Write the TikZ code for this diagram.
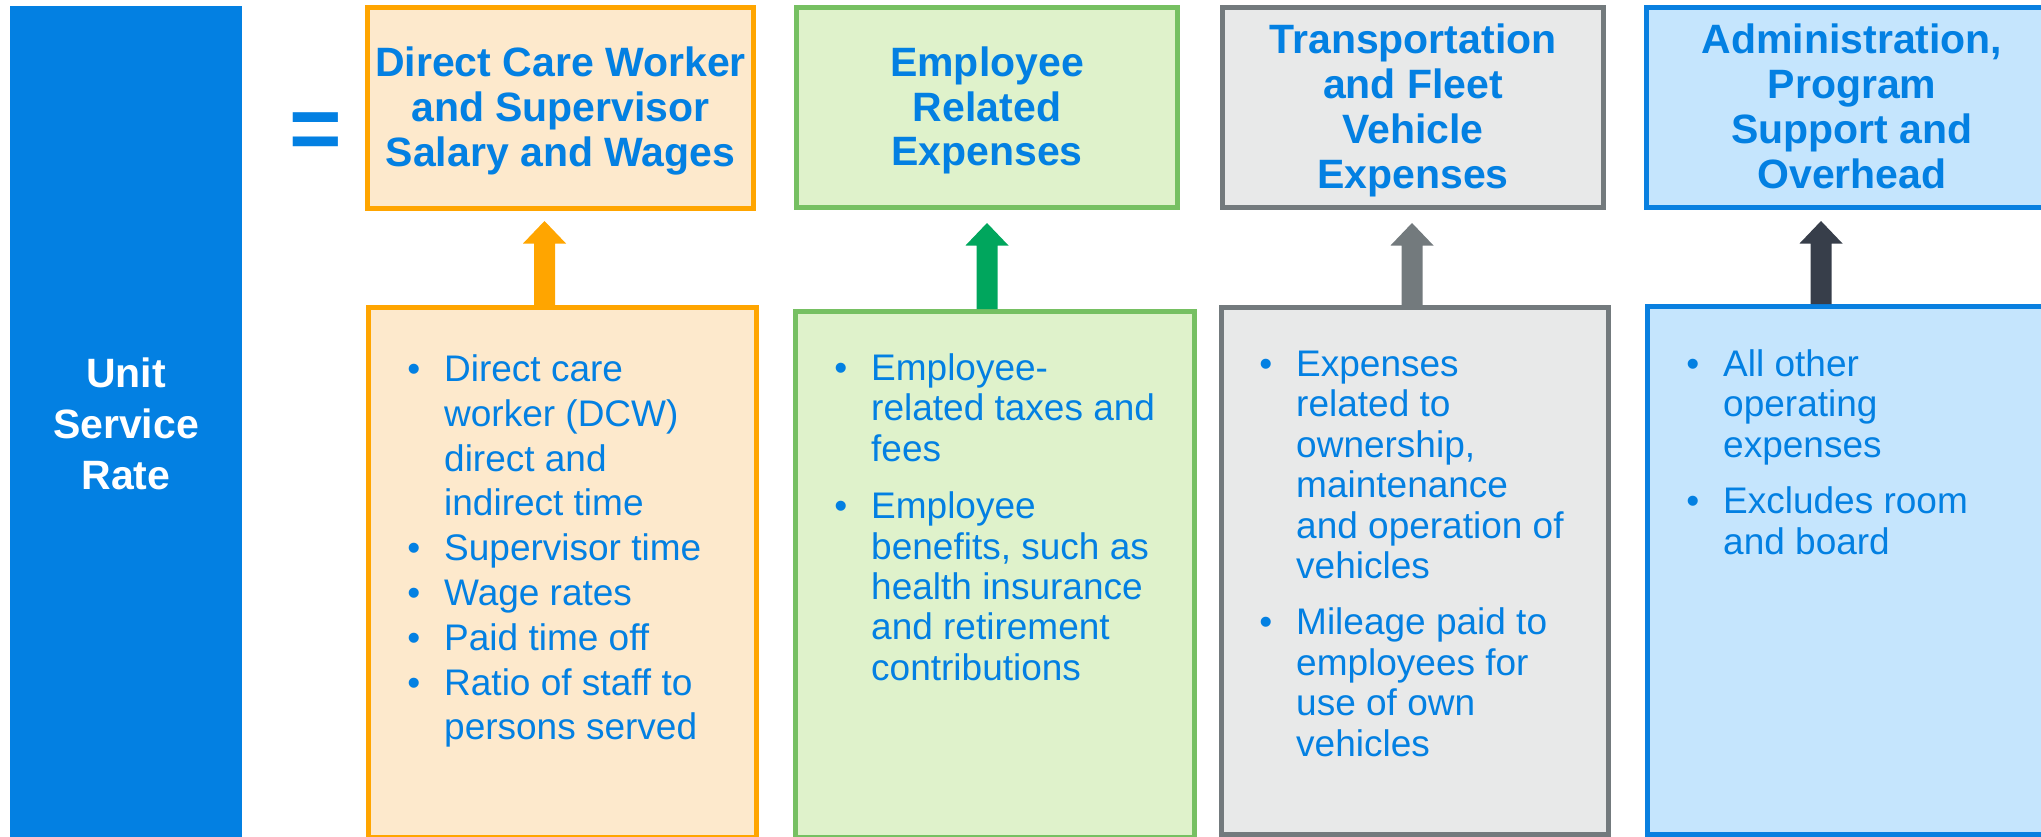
\documentclass[tikz,border=0pt]{standalone}
\usepackage{fontspec}
\setmainfont{Liberation Sans}
\usetikzlibrary{calc}

\definecolor{usrblue}{RGB}{3,128,226}
\definecolor{txtblue}{RGB}{3,128,226}
\definecolor{orgline}{RGB}{255,165,0}
\definecolor{orgfill}{RGB}{253,233,204}
\definecolor{grnline}{RGB}{118,192,98}
\definecolor{grnfill}{RGB}{223,242,203}
\definecolor{grnarrow}{RGB}{0,166,93}
\definecolor{gryline}{RGB}{115,122,125}
\definecolor{gryfill}{RGB}{232,233,233}
\definecolor{bluline}{RGB}{9,128,224}
\definecolor{blufill}{RGB}{197,229,253}
\definecolor{darkarrow}{RGB}{55,62,74}

% bullet hung in the left margin of a list line
\newcommand{\bl}{\leavevmode\llap{•\hspace{24pt}}}
% upward block arrow from a panel's top edge to a tip coordinate
\newcommand{\blockarrow}[3]{%
  \fill[#1] ($(#2 -| #3)+(-10.5,0)$) -- ($(#3)+(-10.5,22.5)$) -- ($(#3)+(-21.5,22.5)$)
    -- (#3) -- ($(#3)+(21.5,22.5)$) -- ($(#3)+(10.5,22.5)$) -- ($(#2 -| #3)+(10.5,0)$) -- cycle;}

\tikzset{
  panel/.style={draw, line width=5pt, inner sep=0pt, anchor=north west},
  headtext/.style={anchor=base, inner sep=0pt, text=txtblue},
  listtext/.style={anchor=base west, inner sep=0pt, text=txtblue},
}

\newcommand{\headfmt}{\hsize=420pt\parindent=0pt\centering\bfseries\fontsize{41}{44.7}\selectfont}
\newcommand{\listfmt}{\hsize=420pt\parindent=0pt\raggedright\fontsize{37}{40.4}\selectfont}

\begin{document}
\begin{tikzpicture}[x=1pt,y=-1pt]
\useasboundingbox (0,0) rectangle (2041,837);
\clip (0,0) rectangle (2041,837);

% left column
\node[fill=usrblue, inner sep=0pt, minimum width=232, minimum height=840, anchor=north west] (usr) at (10,6) {};
\node[anchor=base, inner sep=0pt, text=white] (usrtxt) at (126,387)
  {\vtop{\hsize=230pt\parindent=0pt\centering\bfseries\fontsize{41}{51}\selectfont Unit\\Service\\Rate}};
\node[anchor=base, inner sep=0pt, text=usrblue, font=\bfseries\fontsize{90}{90}\selectfont] (eq) at (315.5,160) {=};

% top panels
\node[panel, draw=orgline, fill=orgfill, minimum width=386, minimum height=201] (t1) at (365,5) {};
\node[panel, draw=grnline, fill=grnfill, minimum width=381, minimum height=200] (t2) at (794,5) {};
\node[panel, draw=gryline, fill=gryfill, minimum width=381, minimum height=200] (t3) at (1220,5) {};
\node[panel, draw=bluline, fill=blufill, minimum width=411, minimum height=200] (t4) at (1644,5) {};

\node[headtext] (h1) at (560.5,77) {\vtop{\headfmt Direct Care Worker\\and Supervisor\\Salary and Wages}};
\node[headtext] (h2) at (987,76.5) {\vtop{\headfmt Employee\\Related\\Expenses}};
\node[headtext] (h3) at (1413,54) {\vtop{\headfmt Transportation\\and Fleet\\Vehicle\\Expenses}};
\node[headtext] (h4) at (1852,54) {\vtop{\headfmt Administration,\\Program\\Support and\\Overhead}};

% bottom panels
\node[panel, draw=orgline, fill=orgfill, minimum width=388, minimum height=530] (b1) at (366,305) {};
\node[panel, draw=grnline, fill=grnfill, minimum width=399, minimum height=526] (b2) at (793,309) {};
\node[panel, draw=gryline, fill=gryfill, minimum width=387, minimum height=527] (b3) at (1219,305) {};
\node[panel, draw=bluline, fill=blufill, minimum width=410, minimum height=528] (b4) at (1645,304) {};

\node[listtext] (l1) at (444,381.5) {\vtop{\listfmt\fontsize{37}{44.8}\selectfont
  \bl Direct care\\worker (DCW)\\direct and\\indirect time\\
  \bl Supervisor time\\
  \bl Wage rates\\
  \bl Paid time off\\
  \bl Ratio of staff to\\persons served}};
\node[listtext] (l2) at (871,380.5) {\vtop{\listfmt
  \bl Employee-\\related taxes and\\fees\\[17pt]
  \bl Employee\\benefits, such as\\health insurance\\and retirement\\contributions}};
\node[listtext] (l3) at (1296,376.5) {\vtop{\listfmt
  \bl Expenses\\related to\\ownership,\\maintenance\\and operation of\\vehicles\\[16pt]
  \bl Mileage paid to\\employees for\\use of own\\vehicles}};
\node[listtext] (l4) at (1723,376.5) {\vtop{\listfmt
  \bl All other\\operating\\expenses\\[16pt]
  \bl Excludes room\\and board}};

% arrows from detail panels up to their headings
\coordinate (a1) at (544.5,221);
\coordinate (a2) at (987,223);
\coordinate (a3) at (1412,223);
\coordinate (a4) at (1821,221);
\blockarrow{orgline}{b1.north}{a1}
\blockarrow{grnarrow}{b2.north}{a2}
\blockarrow{gryline}{b3.north}{a3}
\blockarrow{darkarrow}{b4.north}{a4}
\end{tikzpicture}
\end{document}
